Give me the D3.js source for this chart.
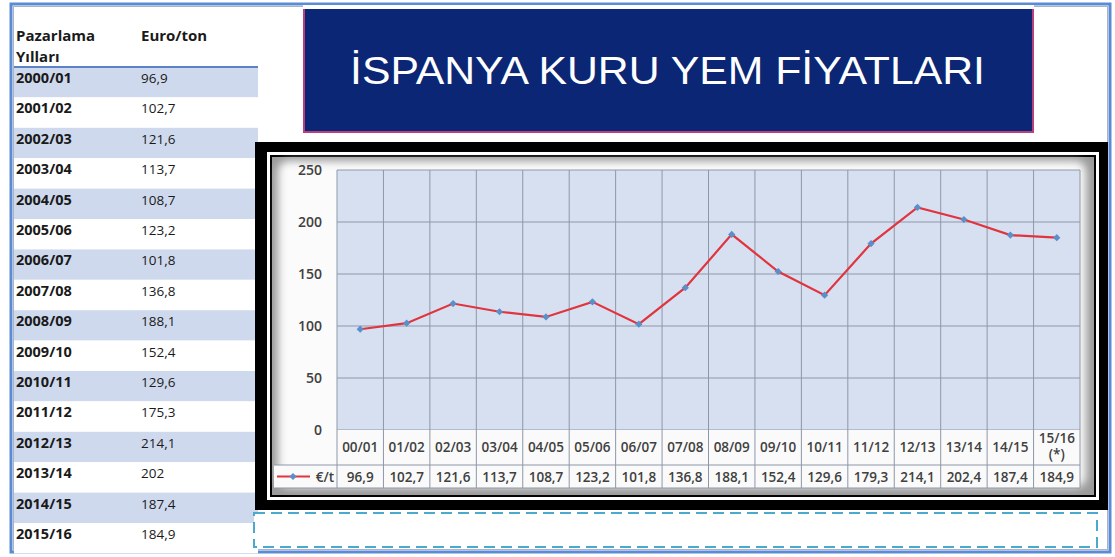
<!DOCTYPE html>
<meta charset="utf-8">
<script src="https://d3js.org/d3.v7.min.js"></script>
<title>İSPANYA KURU YEM FİYATLARI</title>
<style>
body { margin: 0; background: #fff; font-family: "Open Sans", Arial, sans-serif; }
svg { display: block; }
.axis path, .axis line { display: none; }
.axis text { fill: #404040; font-size: 14px; font-weight: 600; font-family: "Open Sans", Arial, sans-serif; }
</style>
<body>
<svg id="slide" width="1115" height="557"></svg>
<script>

// left table
var years = ["2000/01","2001/02","2002/03","2003/04","2004/05","2005/06","2006/07","2007/08",
             "2008/09","2009/10","2010/11","2011/12","2012/13","2013/14","2014/15","2015/16"];
var tableValues = ["96,9","102,7","121,6","113,7","108,7","123,2","101,8","136,8",
                   "188,1","152,4","129,6","175,3","214,1","202","187,4","184,9"];

// chart
var categories = ["00/01","01/02","02/03","03/04","04/05","05/06","06/07","07/08",
                  "08/09","09/10","10/11","11/12","12/13","13/14","14/15","15/16 (*)"];
var prices = [96.9,102.7,121.6,113.7,108.7,123.2,101.8,136.8,188.1,152.4,129.6,179.3,214.1,202.4,187.4,184.9];
var yTicks = [0, 50, 100, 150, 200, 250];

var svg = d3.select("#slide");
var tr = d3.formatLocale({decimal: ",", thousands: ".", grouping: [3], currency: ["", ""]});
var fmt = tr.format(".1f");

var defs = svg.append("defs");
defs.append("filter").attr("id", "soft")
  .attr("x", "-5%").attr("y", "-5%").attr("width", "110%").attr("height", "110%")
  .append("feGaussianBlur").attr("stdDeviation", 4);

// slide border
svg.append("rect").attr("x", 11).attr("y", 4).attr("width", 1099).attr("height", 548)
    .attr("fill", "none").attr("stroke", "#5b8bd4").attr("stroke-width", 3);
svg.append("rect").attr("x", 13.5).attr("y", 6.5).attr("width", 1094).attr("height", 543)
    .attr("fill", "none").attr("stroke", "#a9b4c4").attr("stroke-width", 1);

// ---- left table ----
var rowH = 30.4, tableTop = 67, tableX = 14, tableW = 244;
var tbl = svg.append("g");
tbl.selectAll("rect.row")
    .data(years)
  .enter().append("rect")
    .attr("class", "row")
    .attr("x", tableX)
    .attr("y", function(d, i) { return tableTop + i * rowH; })
    .attr("width", tableW)
    .attr("height", rowH)
    .attr("fill", function(d, i) { return i % 2 == 0 ? "#cfd9ee" : "#ffffff"; });
tbl.append("line").attr("x1", tableX).attr("x2", tableX + tableW)
    .attr("y1", tableTop).attr("y2", tableTop)
    .attr("stroke", "#5b82c4").attr("stroke-width", 2);

tbl.append("text").attr("x", 16).attr("y", 41).text("Pazarlama")
    .style("font-size", "15px").style("font-weight", "bold").attr("fill", "#1a1a1a");
tbl.append("text").attr("x", 16).attr("y", 62).text("Yılları")
    .style("font-size", "15px").style("font-weight", "bold").attr("fill", "#1a1a1a");
tbl.append("text").attr("x", 141).attr("y", 41).text("Euro/ton")
    .style("font-size", "15px").style("font-weight", "bold").attr("fill", "#1a1a1a");

tbl.selectAll("text.yr")
    .data(years)
  .enter().append("text")
    .attr("class", "yr")
    .attr("x", 16)
    .attr("y", function(d, i) { return tableTop + i * rowH + 16; })
    .style("font-size", "14.5px").style("font-weight", "bold").attr("fill", "#1a1a1a")
    .text(function(d) { return d; });
tbl.selectAll("text.val")
    .data(tableValues)
  .enter().append("text")
    .attr("class", "val")
    .attr("x", 141)
    .attr("y", function(d, i) { return tableTop + i * rowH + 16; })
    .style("font-size", "13.5px").attr("fill", "#1a1a1a")
    .text(function(d) { return d; });

// ---- title box ----
svg.append("rect").attr("x", 304).attr("y", 8).attr("width", 729).attr("height", 124)
    .attr("fill", "#0a2674").attr("stroke", "#b8407c").attr("stroke-width", 2);
svg.append("rect").attr("x", 303).attr("y", 5).attr("width", 731).attr("height", 4).attr("fill", "#fff");
svg.append("text")
    .attr("x", 350).attr("y", 84)
    .attr("textLength", 635).attr("lengthAdjust", "spacingAndGlyphs")
    .style("font-family", "'Liberation Sans', Arial, sans-serif")
    .style("font-size", "38px")
    .attr("fill", "#ffffff")
    .text("İSPANYA KURU YEM FİYATLARI");

// ---- chart frame ----
svg.append("rect").attr("x", 255).attr("y", 142).attr("width", 853).attr("height", 368).attr("fill", "#000");
svg.append("rect").attr("x", 267).attr("y", 152).attr("width", 832).attr("height", 348).attr("fill", "#fff");
svg.append("rect").attr("x", 270).attr("y", 155).attr("width", 826).attr("height", 342).attr("fill", "#000");
svg.append("rect").attr("x", 272).attr("y", 157).attr("width", 822).attr("height", 338).attr("fill", "#9a9a9a");
svg.append("rect").attr("x", 278).attr("y", 161).attr("width", 808).attr("height", 326).attr("rx", 10)
    .attr("fill", "#fbfbfb").attr("filter", "url(#soft)");

// ---- plot ----
var plotL = 337, plotR = 1080, plotT = 170, plotB = 430;
var x = d3.scaleBand().domain(categories).range([plotL, plotR]);
var y = d3.scaleLinear().domain([0, 250]).range([plotB, plotT]);

var plot = svg.append("g");
plot.append("rect").attr("x", plotL).attr("y", plotT)
    .attr("width", plotR - plotL).attr("height", plotB - plotT).attr("fill", "#d7e0f0");

// horizontal grid
plot.selectAll("line.hg")
    .data(yTicks)
  .enter().append("line")
    .attr("class", "hg")
    .attr("x1", plotL).attr("x2", plotR)
    .attr("y1", function(d) { return y(d); }).attr("y2", function(d) { return y(d); })
    .attr("stroke", "#8e97a8").attr("stroke-width", 1);

// data table rows under plot
var rowMid = 465, rowBot = 488, keyL = 274;
plot.append("rect").attr("x", plotL).attr("y", plotB).attr("width", plotR - plotL).attr("height", rowMid - plotB)
    .attr("fill", "#fafafa");
plot.append("rect").attr("x", keyL).attr("y", rowMid).attr("width", plotR - keyL).attr("height", rowBot - rowMid)
    .attr("fill", "#fafafa");
[rowMid, rowBot].forEach(function(yy) {
  plot.append("line").attr("x1", keyL).attr("x2", plotR).attr("y1", yy).attr("y2", yy)
      .attr("stroke", "#8e97a8").attr("stroke-width", 1);
});

// vertical grid (through the table)
var bounds = categories.map(function(c) { return x(c); }).concat([plotR]);
plot.selectAll("line.vg")
    .data(bounds)
  .enter().append("line")
    .attr("class", "vg")
    .attr("x1", function(d) { return d; }).attr("x2", function(d) { return d; })
    .attr("y1", plotT).attr("y2", rowBot)
    .attr("stroke", "#8e97a8").attr("stroke-width", 1);

// y axis
plot.append("g")
    .attr("class", "axis")
    .attr("transform", "translate(" + (plotL - 15) + ",0)")
    .call(d3.axisLeft(y).tickValues(yTicks).tickSize(0).tickPadding(0));

// category labels
var cx = function(c) { return x(c) + x.bandwidth() / 2; };
var catG = plot.selectAll("text.cat")
    .data(categories)
  .enter().append("text")
    .attr("class", "cat")
    .attr("x", function(d) { return cx(d); })
    .attr("text-anchor", "middle")
    .attr("fill", "#404040")
    .style("font-size", "13.5px").style("font-weight", "600");
catG.each(function(d) {
  var parts = d.split(" ");
  var t = d3.select(this);
  if (parts.length == 1) {
    t.attr("y", 452).text(d);
  } else {
    t.append("tspan").attr("x", cx(d)).attr("y", 443).text(parts[0]);
    t.append("tspan").attr("x", cx(d)).attr("y", 459).text(parts[1]);
  }
});

// values row
plot.selectAll("text.dv")
    .data(prices)
  .enter().append("text")
    .attr("class", "dv")
    .attr("x", function(d, i) { return cx(categories[i]); })
    .attr("y", 481.5)
    .attr("text-anchor", "middle")
    .attr("fill", "#404040")
    .style("font-size", "13.5px").style("font-weight", "600")
    .text(function(d) { return fmt(d); });

// legend key
var diamond = d3.symbol(d3.symbolSquare, 26)();
plot.append("line").attr("x1", 277).attr("x2", 310).attr("y1", 476.5).attr("y2", 476.5)
    .attr("stroke", "#e0343f").attr("stroke-width", 2);
plot.append("path").attr("d", diamond)
    .attr("transform", "translate(293,476.5) rotate(45)").attr("fill", "#5b8fc9");
plot.append("text").attr("x", 334).attr("y", 481.5).attr("text-anchor", "end")
    .attr("fill", "#404040").style("font-size", "13.5px").style("font-weight", "600").text("€/t");

// line + markers
var line = d3.line()
    .x(function(d, i) { return cx(categories[i]); })
    .y(function(d) { return y(d); });
plot.append("path").datum(prices)
    .attr("d", line)
    .attr("fill", "none").attr("stroke", "#e0343f").attr("stroke-width", 2.2);
plot.selectAll("path.mk")
    .data(prices)
  .enter().append("path")
    .attr("class", "mk")
    .attr("d", diamond)
    .attr("transform", function(d, i) { return "translate(" + cx(categories[i]) + "," + y(d) + ") rotate(45)"; })
    .attr("fill", "#5b8fc9");

// dashed empty box
svg.append("rect").attr("x", 254).attr("y", 513).attr("width", 843).attr("height", 34)
    .attr("fill", "#fff").attr("stroke", "#4aa9cc").attr("stroke-width", 2)
    .attr("stroke-dasharray", "11,6");

</script>
</body>
